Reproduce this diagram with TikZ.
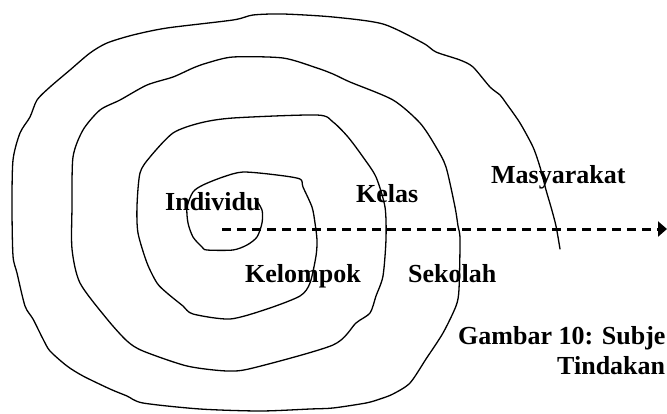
\documentclass[tikz,border=0pt]{standalone}
\usepackage{fontspec}
\setmainfont{Liberation Serif}
\usetikzlibrary{arrows.meta}
\begin{document}
\begin{tikzpicture}[x=1pt,y=-1pt,
  lbl/.style={anchor=base west,inner sep=0pt,font=\fontsize{26}{30}\selectfont\bfseries},
  spiralline/.style={line width=1.3pt,line join=round,line cap=round},
  dasharrow/.style={line width=3pt,dash pattern=on 9pt off 6pt,-{Triangle[length=9pt,width=15pt]}}]
\useasboundingbox (0,0) rectangle (667,413);
\draw[spiralline] plot[smooth,tension=0.45] coordinates {
(255,198) (262,210) (262,223) (257,237) (247,245) (233,250) (207,250) (202,247) (193,237) (188,223) (187,207) (193,192) (203,185) (223,177) (243,172) (277,175) (300,179) (303,187) (312,207) (315,223) (317,240) (316,256) (310,283) (300,296) (267,309) (230,319) (193,314) (183,306) (167,293) (157,283) (147,263) (138,233) (137,206) (140,173) (150,157) (173,133) (200,123) (233,118) (317,115) (333,122) (348,137) (363,157) (376,177) (385,207) (386,239) (383,276) (376,296) (370,313) (356,323) (333,345) (253,368) (227,371) (187,366) (143,351) (127,341) (107,319) (80,283) (72,249) (72,207) (73,157) (83,130) (100,110) (120,100) (147,85) (173,77) (193,68) (207,63) (233,57) (283,58) (317,68) (333,74) (350,82) (393,100) (420,123) (436,147) (446,167) (455,207) (458,226) (460,239) (459,289) (456,306) (443,333) (426,359) (410,383) (393,394) (380,399) (366,403) (333,408) (310,409) (260,411) (200,409) (143,403) (127,396) (110,389) (83,376) (67,366) (50,351) (43,339) (33,319) (25,306) (17,273) (13,256) (12,207) (13,160) (20,133) (30,117) (37,100) (50,87) (70,70) (90,53) (107,43) (133,35) (167,28) (233,20) (253,15) (283,14) (333,17) (383,24) (423,43) (436,52) (460,60) (473,67) (490,87) (500,95) (506,103) (520,123) (533,147) (540,167) (546,190) (551,207) (556,226) (560,249)};
\coordinate (arrowstart) at (222,229);
\coordinate (arrowend) at (667,229);
\draw[dasharrow] (arrowstart) -- (arrowend);
\node[lbl] (individu) at (165,210) {Individu};
\node[lbl] (kelas) at (356,202) {Kelas};
\node[lbl] (masyarakat) at (491,183) {Masyarakat};
\node[lbl] (kelompok) at (245,282) {Kelompok};
\node[lbl] (sekolah) at (408,282) {Sekolah};
\node[lbl] (caption1) at (458,344) {Gambar 10: Subje};
\node[lbl] (caption2) at (557,374) {Tindakan};
\end{tikzpicture}
\end{document}
